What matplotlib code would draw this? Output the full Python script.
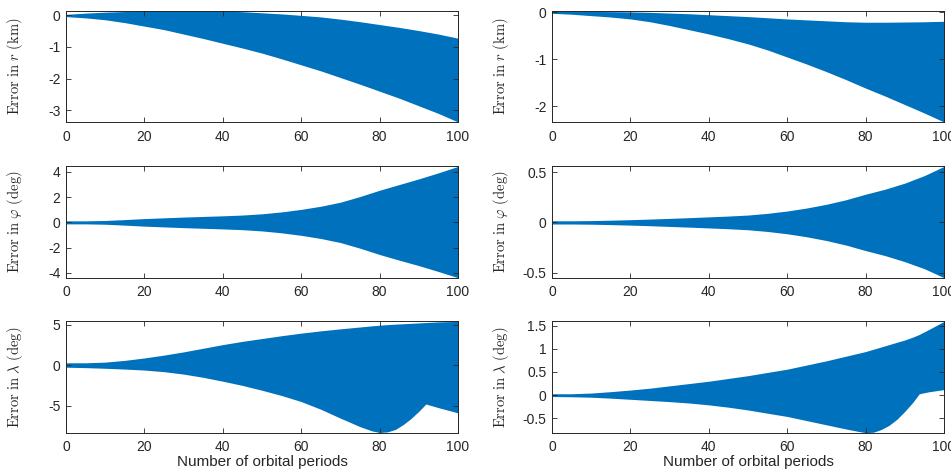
import numpy as np
import matplotlib
matplotlib.use("Agg")
import matplotlib.pyplot as plt

plt.rcParams["font.family"] = ["Liberation Sans", "DejaVu Sans"]
plt.rcParams["mathtext.fontset"] = "cm"
plt.rcParams["axes.unicode_minus"] = False

# envelope of the error signal (upper / lower)
x_grid = [0, 5, 10, 15, 20, 25, 30, 35, 40, 45, 50, 55, 60, 65, 70, 75, 80, 85, 90, 95, 100]

# left column
r_left_upper = [0.02, 0.06, 0.09, 0.11, 0.125, 0.133, 0.135, 0.133, 0.125, 0.105, 0.07, 0.035,
                -0.01, -0.06, -0.13, -0.21, -0.3, -0.39, -0.49, -0.6, -0.73]
r_left_lower = [-0.05, -0.09, -0.15, -0.24, -0.35, -0.46, -0.6, -0.74, -0.89, -1.04, -1.2, -1.38,
                -1.57, -1.76, -1.97, -2.18, -2.4, -2.62, -2.86, -3.1, -3.37]

phi_left_upper = [0.12, 0.12, 0.15, 0.22, 0.3, 0.36, 0.42, 0.47, 0.52, 0.58, 0.68, 0.83,
                  1.03, 1.28, 1.6, 2.05, 2.55, 3.0, 3.45, 3.93, 4.44]
phi_left_lower = [-0.12, -0.12, -0.15, -0.22, -0.3, -0.36, -0.42, -0.47, -0.52, -0.58, -0.68, -0.83,
                  -1.03, -1.28, -1.6, -2.05, -2.55, -3.0, -3.43, -3.9, -4.39]

lam_left_x = [0, 5, 10, 15, 20, 25, 30, 35, 40, 45, 50, 55, 60, 65, 70, 75, 78, 80, 82, 84,
              86, 88, 90, 91, 91.8, 95, 100]
lam_left_upper = [0.3, 0.3, 0.38, 0.6, 0.9, 1.25, 1.65, 2.1, 2.55, 2.95, 3.3, 3.65, 3.97, 4.25,
                  4.5, 4.73, 4.87, 4.95, 5.02, 5.08, 5.13, 5.18, 5.23, 5.26, 5.28, 5.36, 5.42]
lam_left_lower = [-0.25, -0.3, -0.38, -0.48, -0.6, -0.8, -1.1, -1.5, -1.98, -2.5, -3.1, -3.75,
                  -4.5, -5.45, -6.55, -7.6, -8.12, -8.33, -8.25, -7.95, -7.35, -6.6, -5.7,
                  -5.2, -4.8, -5.25, -5.9]

# right column
r_right_upper = [0.02, 0.02, 0.02, 0.015, 0.01, 0.0, -0.015, -0.03, -0.05, -0.07, -0.09, -0.115,
                 -0.14, -0.16, -0.18, -0.2, -0.21, -0.21, -0.205, -0.2, -0.19]
r_right_lower = [-0.02, -0.04, -0.07, -0.1, -0.14, -0.2, -0.28, -0.37, -0.46, -0.56, -0.67, -0.8,
                 -0.95, -1.1, -1.26, -1.43, -1.61, -1.78, -1.96, -2.14, -2.33]

phi_right_upper = [0.016, 0.016, 0.018, 0.022, 0.027, 0.033, 0.04, 0.047, 0.055, 0.063, 0.073,
                   0.09, 0.113, 0.143, 0.18, 0.225, 0.28, 0.33, 0.39, 0.465, 0.556]
phi_right_lower = [-0.016, -0.016, -0.018, -0.022, -0.027, -0.033, -0.04, -0.047, -0.055, -0.063,
                   -0.073, -0.09, -0.113, -0.143, -0.18, -0.225, -0.28, -0.33, -0.39, -0.46, -0.549]

lam_right_x = [0, 5, 10, 15, 20, 25, 30, 35, 40, 45, 50, 55, 60, 65, 70, 75, 78, 80, 82, 84,
               86, 88, 90, 92, 93.7, 96, 100]
lam_right_upper = [0.03, 0.03, 0.045, 0.075, 0.11, 0.15, 0.2, 0.25, 0.3, 0.36, 0.42, 0.49, 0.56,
                   0.65, 0.74, 0.84, 0.9, 0.94, 0.99, 1.04, 1.09, 1.14, 1.19, 1.25, 1.31, 1.41, 1.59]
lam_right_lower = [-0.03, -0.035, -0.045, -0.065, -0.09, -0.115, -0.14, -0.17, -0.21, -0.26,
                   -0.32, -0.39, -0.46, -0.55, -0.64, -0.73, -0.78, -0.81, -0.8, -0.74, -0.65,
                   -0.52, -0.35, -0.16, 0.03, 0.07, 0.12]

panels = [
    # (x, upper, lower, ylim, yticks, ylabel)
    (x_grid, r_left_upper, r_left_lower, (-3.37, 0.136), [-3, -2, -1, 0], r"$\mathrm{Error\ in\ }r\mathrm{\ (km)}$"),
    (x_grid, r_right_upper, r_right_lower, (-2.33, 0.035), [-2, -1, 0], r"$\mathrm{Error\ in\ }r\mathrm{\ (km)}$"),
    (x_grid, phi_left_upper, phi_left_lower, (-4.39, 4.44), [-4, -2, 0, 2, 4], r"$\mathrm{Error\ in\ }\varphi\mathrm{\ (deg)}$"),
    (x_grid, phi_right_upper, phi_right_lower, (-0.549, 0.556), [-0.5, 0, 0.5], r"$\mathrm{Error\ in\ }\varphi\mathrm{\ (deg)}$"),
    (lam_left_x, lam_left_upper, lam_left_lower, (-8.35, 5.42), [-5, 0, 5], r"$\mathrm{Error\ in\ }\lambda\mathrm{\ (deg)}$"),
    (lam_right_x, lam_right_upper, lam_right_lower, (-0.81, 1.59), [-0.5, 0, 0.5, 1, 1.5], r"$\mathrm{Error\ in\ }\lambda\mathrm{\ (deg)}$"),
]

blue = "#0072BD"
dark = "#262626"

fig = plt.figure(figsize=(9.51, 4.75), dpi=100)

lefts = [66 / 951, 552 / 951]
bottoms = [1 - 122 / 475, 1 - 277.7 / 475, 1 - 432.7 / 475]
w = 392 / 951
h = 111.3 / 475

for i, (xs, up, lo, ylim, yt, lab) in enumerate(panels):
    row, col = divmod(i, 2)
    ax = fig.add_axes([lefts[col], bottoms[row], w, h])
    ax.fill_between(xs, lo, up, color=blue, linewidth=0)
    ax.set_xlim(0, 100)
    ax.set_ylim(*ylim)
    ax.set_xticks([0, 20, 40, 60, 80, 100])
    ax.set_yticks(yt)
    ax.set_yticklabels([("%g" % v) for v in yt])
    ax.tick_params(direction="in", length=3.5, width=0.6, colors=dark, labelsize=10,
                   top=True, right=True, pad=4)
    ax.tick_params(axis="x", pad=5.5)
    for s in ax.spines.values():
        s.set_color(dark)
        s.set_linewidth(0.7)
    ax.set_ylabel(lab, fontsize=10.5, color=dark)
    ax.yaxis.set_label_coords(-0.104, 0.5)
    if row == 2:
        ax.set_xlabel("Number of orbital periods", fontsize=11, color=dark, labelpad=0.5)

fig.savefig("out.png", dpi=100)
